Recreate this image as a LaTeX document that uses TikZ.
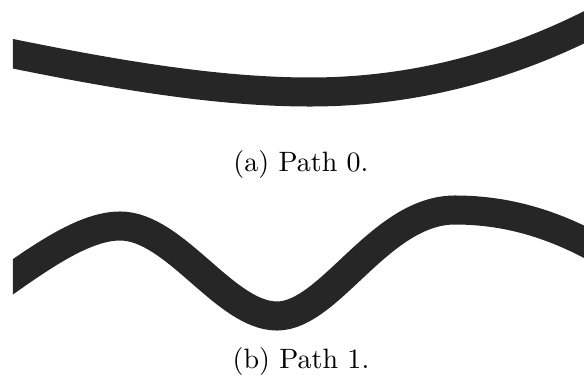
\documentclass[tikz,border=0pt]{standalone}
\definecolor{ink}{RGB}{38,38,38}
\begin{document}
\begin{tikzpicture}[x=0.357pt,y=-0.357pt,
  curve/.style={draw=ink,line width=10.36pt},
  caption/.style={anchor=base,inner sep=0pt,font=\normalsize}]
\useasboundingbox (0,0) rectangle (584,378);
\begin{scope}
\clip (13,0) rectangle (584,378);
\draw[curve] (-20,47) .. controls (100,72) and (210,92) .. (310,92)
  .. controls (410,92) and (510,68) .. (610,14);
\draw[curve] (-20,300) .. controls (30,265) and (80,226) .. (120,226)
  .. controls (175,226) and (225,316) .. (277,316)
  .. controls (330,316) and (380,210) .. (455,210)
  .. controls (510,210) and (560,226) .. (610,256);
\end{scope}
\node[caption] (capa) at (301,172) {(a) Path 0.};
\node[caption] (capb) at (301,369) {(b) Path 1.};
\end{tikzpicture}
\end{document}
